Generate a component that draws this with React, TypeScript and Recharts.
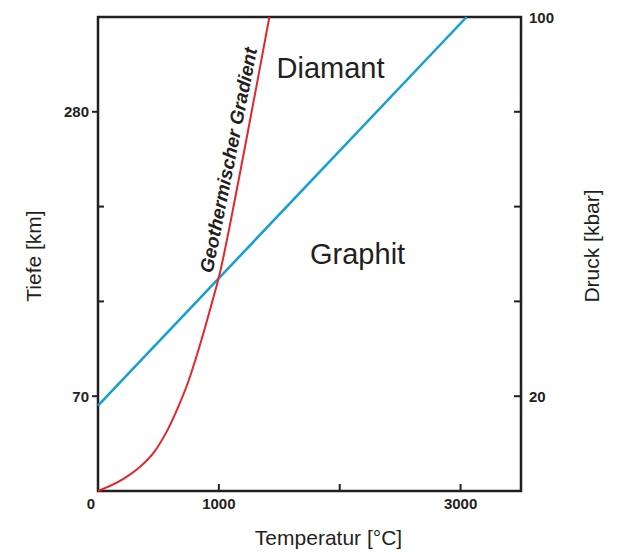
import {
  LineChart,
  Line,
  XAxis,
  YAxis,
  ReferenceArea,
  ReferenceDot,
} from "recharts";

// Geothermal gradient (temperature °C vs. pressure units 0..100)
const gradientTemp = [0, 207, 348, 464, 580, 663, 746, 821, 887, 945, 1003, 1103, 1211, 1318, 1418];
const gradientDepth = [0, 2.5, 5.1, 8.2, 13.1, 17.7, 23.0, 28.9, 34.6, 39.9, 45.4, 57.6, 71.9, 86.3, 100];

// Graphite / diamond boundary
const boundaryTemp = [0, 3050];
const boundaryDepth = [18, 100];

const xTicks = [0, 1000, 2000, 3000];
const xTickLabels = ["0", "1000", "", "3000"];
const yTicks = [0, 20, 40, 60, 80, 100];
const leftTickLabels = ["", "70", "", "", "280", ""];
const rightTickLabels = ["", "20", "", "", "", "100"];

const redData = gradientTemp.map((t, i) => ({ t, p: gradientDepth[i] }));
const blueData = boundaryTemp.map((t, i) => ({ t, p: boundaryDepth[i] }));

const INK = "#231f20";
const FONT = "'Liberation Sans', Arial, sans-serif";
const RED = "#e2262b";
const BLUE = "#139fd6";

const XTick = (props: any) => {
  const { x, y, payload, index } = props;
  const v = payload.value;
  return (
    <g>
      {v !== 0 && (
        <line x1={x} y1={y} x2={x} y2={y - 7} stroke={INK} strokeWidth={2} />
      )}
      <text
        x={v === 0 ? x - 7 : x}
        y={y + 12}
        textAnchor="middle"
        dominantBaseline="central"
        fontFamily={FONT}
        fontWeight="bold"
        fontSize={15}
        fill={INK}
      >
        {xTickLabels[index]}
      </text>
    </g>
  );
};

const LeftTick = (props: any) => {
  const { x, y, payload } = props;
  const i = yTicks.indexOf(payload.value);
  const label = leftTickLabels[i];
  if (payload.value === 0 || payload.value === 100) return <g />;
  return (
    <g>
      {label ? (
        <line x1={x} y1={y} x2={x - 6} y2={y} stroke={INK} strokeWidth={2} />
      ) : (
        <line x1={x} y1={y} x2={x + 6} y2={y} stroke={INK} strokeWidth={2} />
      )}
      <text
        x={x - 9}
        y={y}
        textAnchor="end"
        dominantBaseline="central"
        fontFamily={FONT}
        fontWeight="bold"
        fontSize={15}
        fill={INK}
      >
        {label}
      </text>
    </g>
  );
};

const RightTick = (props: any) => {
  const { x, y, payload } = props;
  const i = yTicks.indexOf(payload.value);
  const label = rightTickLabels[i];
  return (
    <g>
      {payload.value !== 0 && payload.value !== 100 && (
        <line x1={x} y1={y} x2={x - 7} y2={y} stroke={INK} strokeWidth={2} />
      )}
      <text
        x={x + 8}
        y={y}
        textAnchor="start"
        dominantBaseline="central"
        fontFamily={FONT}
        fontWeight="bold"
        fontSize={15}
        fill={INK}
      >
        {label}
      </text>
    </g>
  );
};

const areaLabel = (text: string) => (p: any) => {
  const { viewBox } = p;
  return (
    <text
      x={viewBox.x}
      y={viewBox.y}
      textAnchor="middle"
      dominantBaseline="central"
      fontFamily={FONT}
      fontSize={29}
      fill={INK}
    >
      {text}
    </text>
  );
};

const gradientLabel = (p: any) => {
  const { viewBox } = p;
  return (
    <text
      x={viewBox.x}
      y={viewBox.y}
      transform={`rotate(-78.7 ${viewBox.x} ${viewBox.y})`}
      textAnchor="middle"
      dominantBaseline="central"
      fontFamily={FONT}
      fontSize={19}
      fontWeight="bold"
      fontStyle="italic"
      fill={INK}
    >
      Geothermischer Gradient
    </text>
  );
};

const axisTitle = (text: string, cx: number, cy: number, angle: number) => (
  <text
    x={cx}
    y={cy}
    transform={angle ? `rotate(${angle} ${cx} ${cy})` : undefined}
    textAnchor="middle"
    dominantBaseline="central"
    fontFamily={FONT}
    fontSize={21}
    fill={INK}
  >
    {text}
  </text>
);

export default function App() {
  return (
    <div style={{ position: "absolute", left: 0, top: 0 }}>
      <LineChart
        width={618}
        height={552}
        margin={{ top: 17, right: 37, bottom: 21, left: 28 }}
      >
        <XAxis
          dataKey="t"
          type="number"
          domain={[0, 3500]}
          ticks={xTicks}
          interval={0}
          axisLine={false}
          tickLine={false}
          tickSize={0}
          tickMargin={0}
          height={40}
          tick={XTick}
          label={{
            content: (p: any) =>
              axisTitle("Temperatur [°C]", p.viewBox.x + p.viewBox.width / 2 + 19, p.viewBox.y + 46, 0),
          }}
        />
        <YAxis
          yAxisId="left"
          type="number"
          domain={[0, 100]}
          ticks={yTicks}
          interval={0}
          axisLine={false}
          tickLine={false}
          tickSize={0}
          tickMargin={0}
          width={70}
          tick={LeftTick}
          label={{
            content: (p: any) => axisTitle("Tiefe [km]", p.viewBox.x + 5, 256, -90),
          }}
        />
        <YAxis
          yAxisId="right"
          orientation="right"
          type="number"
          domain={[0, 100]}
          allowDataOverflow
          ticks={yTicks}
          interval={0}
          axisLine={false}
          tickLine={false}
          tickSize={0}
          tickMargin={0}
          width={60}
          tick={RightTick}
          label={{
            content: (p: any) => axisTitle("Druck [kbar]", p.viewBox.x + p.viewBox.width + 10, 246, -90),
          }}
        />
        <Line
          yAxisId="left"
          data={blueData}
          dataKey="p"
          type="linear"
          stroke={BLUE}
          strokeWidth={2.5}
          dot={false}
          activeDot={false}
          isAnimationActive={false}
        />
        <Line
          yAxisId="left"
          data={redData}
          dataKey="p"
          type="monotone"
          stroke={RED}
          strokeWidth={2}
          dot={false}
          activeDot={false}
          isAnimationActive={false}
        />
        <ReferenceArea
          yAxisId="right"
          ifOverflow="extendDomain"
          x1={0}
          x2={3500}
          y1={0}
          y2={100}
          fill="none"
          stroke={INK}
          strokeWidth={2.5}
          strokeOpacity={1}
          fillOpacity={0}
        />
        <ReferenceDot
          yAxisId="left"
          x={1924}
          y={89.2}
          r={0}
          stroke="none"
          fill="none"
          label={{ content: areaLabel("Diamant") }}
        />
        <ReferenceDot
          yAxisId="left"
          x={2148}
          y={50}
          r={0}
          stroke="none"
          fill="none"
          label={{ content: areaLabel("Graphit") }}
        />
        <ReferenceDot
          yAxisId="left"
          x={1080}
          y={69.8}
          r={0}
          stroke="none"
          fill="none"
          label={{ content: gradientLabel }}
        />
      </LineChart>
    </div>
  );
}
